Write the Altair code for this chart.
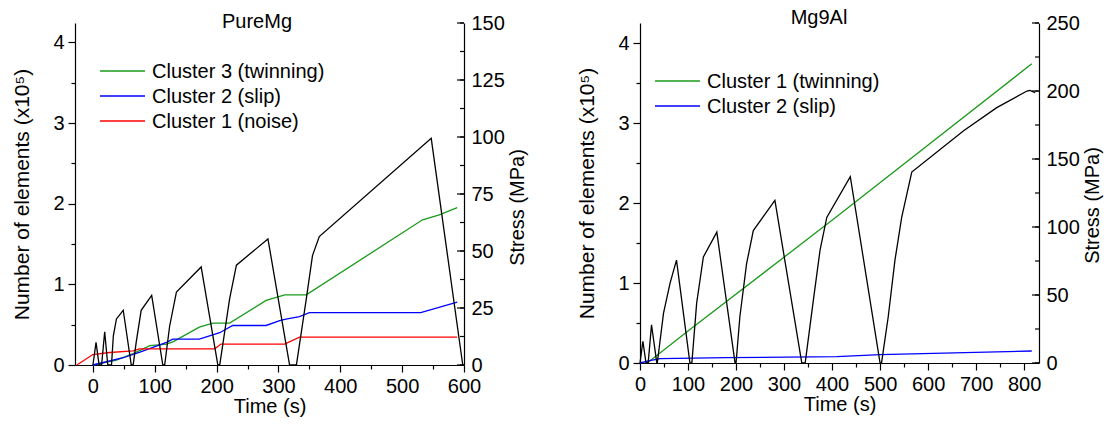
import altair as alt
import pandas as pd

FONT = "Liberation Sans"
FS = 20

# ---------------- PureMg (left panel) ----------------
pm_c1_t = [-26, 0, 27, 65, 75, 197, 207, 310, 334, 589]
pm_c1_v = [0, 0.13, 0.155, 0.175, 0.20, 0.20, 0.26, 0.26, 0.345, 0.345]
pm_c2_t = [0, 49, 76, 119, 129, 172, 205, 226, 280, 302, 312, 334, 350, 530, 589]
pm_c2_v = [0, 0.09, 0.16, 0.28, 0.32, 0.32, 0.40, 0.49, 0.49, 0.55, 0.57, 0.60, 0.65, 0.65, 0.78]
pm_c3_t = [0, 38, 65, 92, 119, 130, 172, 194, 221, 280, 302, 310, 345, 533, 560, 589]
pm_c3_v = [0, 0.06, 0.14, 0.24, 0.26, 0.29, 0.47, 0.52, 0.52, 0.80, 0.85, 0.87, 0.87, 1.80, 1.86, 1.95]
pm_stress_t = [0, 5, 10, 14, 19, 24, 30, 33, 38, 49, 62, 65, 70, 78, 95, 113,
               116, 124, 135, 175, 202, 205, 221, 232, 283, 318, 329, 345, 355, 366, 547, 598]
pm_stress_s = [0, 9.9, 0, 0, 14.6, 0, 0, 12.8, 20.2, 24, 0, 0, 10, 24, 30.5, 0,
               0, 17, 32, 43, 0, 0, 29, 43.8, 55.3, 0, 0, 29, 48, 56.3, 99.4, 0]
pm_labels = ["Cluster 3 (twinning)", "Cluster 2 (slip)", "Cluster 1 (noise)"]
pm_colors = ["#1a9a1a", "#0000ff", "#ff0000"]

# ---------------- Mg9Al (right panel) ----------------
al_c1_t = [15, 100, 410, 816]
al_c1_v = [0, 0.40, 1.83, 3.74]
al_c2_t = [0, 20, 42, 180, 410, 500, 816]
al_c2_v = [0, 0.03, 0.055, 0.066, 0.08, 0.105, 0.15]
al_stress_t = [0, 6, 12.5, 17, 24, 35, 36, 49, 62.5, 76, 104, 108, 118, 132, 160, 198,
               200, 208, 222, 236, 281, 337, 344, 361, 375, 389, 438, 500,
               503, 517, 531, 545, 566, 674, 743, 806, 812, 823]
al_stress_s = [0, 16, 0, 0, 28, 0, 0, 36.7, 58.5, 75.6, 0, 0, 44, 78, 96.2, 0,
               0, 34, 73, 97.4, 119.5, 0, 0, 46, 83, 107, 137, 0,
               0, 34, 75.6, 107, 140.4, 170.8, 187.8, 200, 200.5, 198.8]
al_labels = ["Cluster 1 (twinning)", "Cluster 2 (slip)"]
al_colors = ["#1a9a1a", "#0000ff"]

ONE = alt.Data(values=[{"k": 0}])


def series_df(ts, vs, names):
    rows = []
    for t_arr, v_arr, name in zip(ts, vs, names):
        for i, (t, v) in enumerate(zip(t_arr, v_arr)):
            rows.append({"t": t, "v": v, "series": name, "i": i})
    return pd.DataFrame(rows)


def panel(title, title_x, title_y, xdom, xmax_label, W, H, ydom, sdom, sstep, sminor,
          ser_t, ser_v, labels, colors, st_t, st_s, leg_x, leg_y0, stitle_y):
    df = series_df(ser_t, ser_v, labels)
    sdf = pd.DataFrame({"t": st_t, "s": st_s, "i": list(range(len(st_t)))})

    xvals = list(range(0, xmax_label + 1, 50))
    yvals = [k * 0.5 for k in range(0, int(ydom[1] * 2) + 1)]
    xaxis = alt.Axis(
        title="Time (s)", values=xvals,
        labelExpr="datum.value % 100 === 0 ? format(datum.value, 'd') : ''",
        tickSize={"condition": {"test": "datum.value % 100 !== 0", "value": 4}, "value": 7},
        labelPadding=4, titlePadding=0, labelFlush=False, labelOverlap=False,
    )
    yaxis = alt.Axis(
        title="Number of elements (x10⁵)", orient="left", values=yvals,
        labelExpr="datum.value % 1 === 0 ? format(datum.value, 'd') : ''",
        tickSize={"condition": {"test": "datum.value % 1 !== 0", "value": 4}, "value": 7},
        labelPadding=4, titlePadding=20, titleFontSize=21, labelOverlap=False,
    )
    xscale = alt.Scale(domain=xdom, nice=False, zero=False)
    lines = alt.Chart(df).mark_line(strokeWidth=1.3).encode(
        x=alt.X("t:Q", scale=xscale, axis=xaxis),
        y=alt.Y("v:Q", scale=alt.Scale(domain=ydom, nice=False, zero=False), axis=yaxis),
        color=alt.Color("series:N", scale=alt.Scale(domain=labels, range=colors), legend=None),
        order="i:Q",
    )
    # legend (manual)
    leg = []
    for k, (lab, col) in enumerate(zip(labels, colors)):
        yy = leg_y0 + 25 * k
        leg.append(alt.Chart(ONE).mark_rule(color=col, strokeWidth=1.3).encode(
            x=alt.value(leg_x), x2=alt.value(leg_x + 45), y=alt.value(yy)))
        leg.append(alt.Chart(ONE).mark_text(font=FONT, fontSize=FS, align="left",
                                             baseline="middle", color="#000").encode(
            x=alt.value(leg_x + 52), y=alt.value(yy + 1), text=alt.value(lab)))
    ttl = alt.Chart(ONE).mark_text(font=FONT, fontSize=FS, align="center",
                                   baseline="alphabetic", color="#000").encode(
        x=alt.value(title_x), y=alt.value(title_y), text=alt.value(title))
    left_layer = alt.layer(lines, ttl, *leg)

    svals = [k * sstep for k in range(0, int(sdom[1] / sstep) + 1)]
    minvals = [k * sminor for k in range(0, int(sdom[1] / sminor) + 1)]
    saxis = alt.Axis(title="Stress (MPa)", orient="right", values=svals, ticks=False,
                     labelPadding=7, titlePadding=3, titleAngle=-90, titleBaseline="top",
                     titleY=stitle_y, labelOverlap=False, format="d")
    sscale = alt.Scale(domain=sdom, nice=False, zero=False)
    sline = alt.Chart(sdf).mark_line(color="#000", strokeWidth=1.3).encode(
        x=alt.X("t:Q", scale=xscale, axis=xaxis),
        y=alt.Y("s:Q", scale=sscale, axis=saxis),
        order="i:Q",
    )
    major = alt.Chart(pd.DataFrame({"s": svals})).mark_rule(color="#000", strokeWidth=1.2).encode(
        y=alt.Y("s:Q", scale=sscale, axis=saxis), x=alt.value(W - 7), x2=alt.value(W))
    minor = alt.Chart(pd.DataFrame({"s": minvals})).mark_rule(color="#000", strokeWidth=1.2).encode(
        y=alt.Y("s:Q", scale=sscale, axis=saxis), x=alt.value(W - 4), x2=alt.value(W))
    right_layer = alt.layer(sline, major, minor)

    return alt.layer(left_layer, right_layer).resolve_scale(y="independent").properties(
        width=W, height=H)


left = panel("PureMg", 182, 5, [-29, 600], 600, 389, 342, [0, 4.24], [0, 150], 25, 12.5,
             [pm_c3_t, pm_c2_t, pm_c1_t], [pm_c3_v, pm_c2_v, pm_c1_v], pm_labels, pm_colors,
             pm_stress_t, pm_stress_s, 25, 48, 184)
right = panel("Mg9Al", 179, 1, [0, 831], 800, 399, 340, [0, 4.25], [0, 250], 50, 25,
              [al_c1_t, al_c2_t], [al_c1_v, al_c2_v], al_labels, al_colors,
              al_stress_t, al_stress_s, 15, 58, 182)

chart = alt.hconcat(left, right, spacing=176, bounds="flush").properties(
    padding={"left": 11, "top": 8, "right": 5, "bottom": 5},
    background="#ffffff",
).configure_view(stroke=None).configure_axis(
    labelFont=FONT, labelFontSize=FS, labelColor="#000",
    titleFont=FONT, titleFontSize=FS, titleFontWeight="normal", titleColor="#000",
    domainColor="#000", tickColor="#000", domainWidth=1.2, tickWidth=1.2, grid=False,
)

chart.save("out.html", embed_options={"renderer": "svg", "actions": False})
